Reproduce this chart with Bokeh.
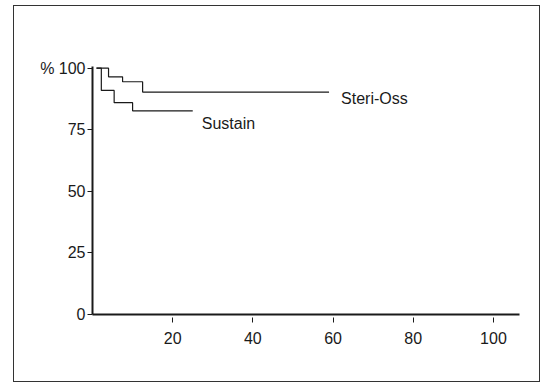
from bokeh.plotting import figure
from bokeh.models import FixedTicker, Range1d, Label
from bokeh.embed import file_html
from bokeh.resources import INLINE

# Kaplan-Meier style survival curves (x: months, y: %)
steri_x = [1, 4, 7.5, 12.5, 59]
steri_y = [100, 96.5, 94.5, 90.3, 90.3]
sustain_x = [1, 2.2, 5.4, 10, 25]
sustain_y = [100, 91, 86, 82.7, 82.7]
series_names = ["Steri-Oss", "Sustain"]
x_ticks = [20, 40, 60, 80, 100]
y_ticks = [0, 25, 50, 75, 100]
y_tick_labels = {0: "0", 25: "25", 50: "50", 75: "75", 100: "% 100"}

INK = "#1a1a1a"
FONT = "Liberation Sans"

p = figure(width=527, height=377, output_backend="svg", toolbar_location=None,
           x_range=Range1d(0, 106.5), y_range=Range1d(0, 100.7),
           min_border_left=78, min_border_right=22, min_border_top=60,
           min_border_bottom=69)
p.styles = {"border": "1px solid #333", "transform": "translate(13px, 5px)"}
p.outline_line_color = None
p.grid.visible = False
p.background_fill_color = "white"
p.border_fill_color = "white"

p.step(steri_x, steri_y, mode="after", line_color=INK, line_width=1.2)
p.step(sustain_x, sustain_y, mode="after", line_color=INK, line_width=1.2)

# x axis
xa = p.xaxis[0]
xa.ticker = FixedTicker(ticks=x_ticks)
xa.minor_tick_line_color = None
xa.axis_line_width = 2
xa.axis_line_color = INK
xa.major_tick_in = -3
xa.major_tick_out = 8
xa.major_tick_line_color = INK
xa.major_label_standoff = 9
xa.major_label_text_font = FONT
xa.major_label_text_font_size = "16px"
xa.major_label_text_color = INK

# y axis
ya = p.yaxis[0]
ya.ticker = FixedTicker(ticks=y_ticks)
ya.major_label_overrides = y_tick_labels
ya.minor_tick_line_color = None
ya.axis_line_width = 2
ya.axis_line_color = INK
ya.major_tick_in = 0
ya.major_tick_out = 5
ya.major_tick_line_color = INK
ya.major_label_standoff = 2
ya.major_label_text_font = FONT
ya.major_label_text_font_size = "16px"
ya.major_label_text_color = INK

# curve labels, anchored at each curve's end
p.add_layout(Label(x=steri_x[-1], y=steri_y[-1], text=series_names[0],
                   x_offset=12, y_offset=-6, text_align="left", text_baseline="middle",
                   text_font=FONT, text_font_size="16px", text_color=INK))
p.add_layout(Label(x=sustain_x[-1], y=sustain_y[-1], text=series_names[1],
                   x_offset=9, y_offset=-13, text_align="left", text_baseline="middle",
                   text_font=FONT, text_font_size="16px", text_color=INK))

open("out.html", "w").write(file_html(p, INLINE))
